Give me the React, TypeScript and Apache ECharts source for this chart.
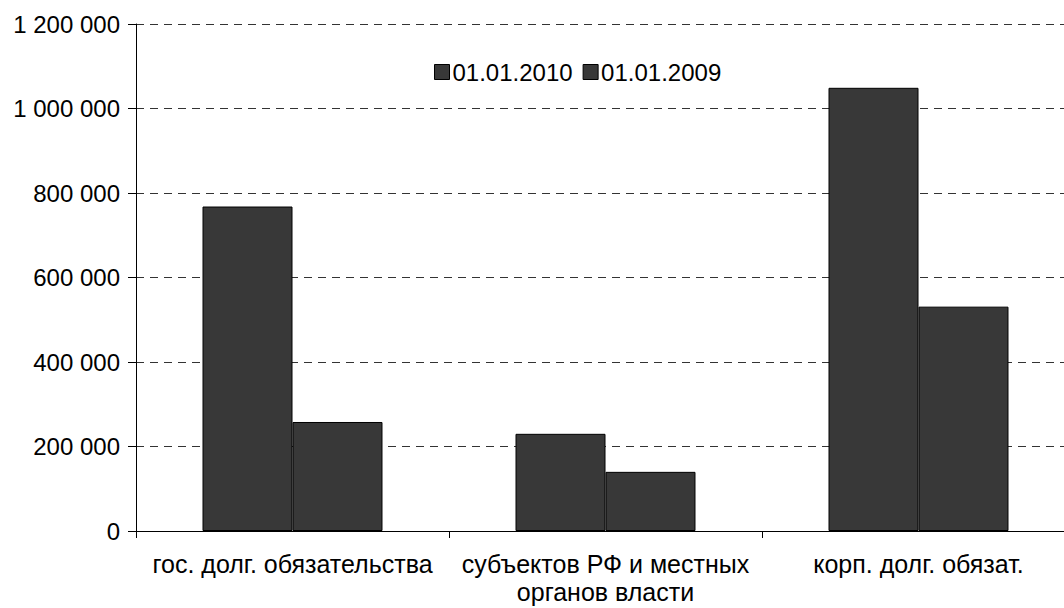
import React, { useEffect, useRef } from "react";
import * as echarts from "echarts";

const categories = [
  "гос. долг. обязательства",
  "субъектов РФ и местных\nорганов власти",
  "корп. долг. обязат.",
];
const seriesNames = ["01.01.2010", "01.01.2009"];
const values2010 = [768000, 230000, 1049000];
const values2009 = [258000, 140000, 531000];

const FONT = "'Liberation Sans', Arial, sans-serif";
const BAR = "#383838";

function fmt(v: number): string {
  return String(Math.round(v)).replace(/\B(?=(\d{3})+(?!\d))/g, " ");
}

export default function App() {
  const ref = useRef<HTMLDivElement>(null);
  useEffect(() => {
    if (!ref.current) return;
    const chart = echarts.init(ref.current, null, { renderer: "svg" });
    const mkSeries = (name: string, data: number[]) => ({
      name,
      type: "bar",
      data,
      barGap: "0%",
      barCategoryGap: "42.5%",
      itemStyle: { color: BAR, borderColor: "#000", borderWidth: 1 },
    });
    chart.setOption({
      animation: false,
      backgroundColor: "#fff",
      textStyle: { fontFamily: FONT },
      legend: {
        left: 434,
        top: 60,
        padding: 0,
        itemWidth: 15,
        itemHeight: 15,
        itemGap: 10,
        icon: "rect",
        data: seriesNames,
        textStyle: { fontFamily: FONT, fontSize: 24, color: "#000", padding: [0, 0, 0, -2] },
        itemStyle: { borderColor: "#000", borderWidth: 1 },
      },
      grid: { left: 136, top: 24, width: 939, height: 507, containLabel: false },
      xAxis: {
        type: "category",
        data: categories,
        boundaryGap: true,
        axisLine: { lineStyle: { color: "#000", width: 1 } },
        axisTick: { show: true, length: 7, lineStyle: { color: "#000" }, alignWithLabel: false },
        axisLabel: {
          interval: 0,
          fontFamily: FONT,
          fontSize: 25,
          color: "#000",
          margin: 19,
          lineHeight: 28,
        },
      },
      yAxis: {
        type: "value",
        min: 0,
        max: 1200000,
        interval: 200000,
        axisLine: { show: true, lineStyle: { color: "#000", width: 1 } },
        axisTick: { show: true, length: 8, lineStyle: { color: "#000" } },
        axisLabel: {
          fontFamily: FONT,
          fontSize: 24,
          color: "#000",
          margin: 16,
          formatter: (v: number) => fmt(v),
        },
        splitLine: {
          show: true,
          lineStyle: { color: "#333", type: [8, 6], width: 1 },
        },
      },
      series: [mkSeries(seriesNames[0], values2010), mkSeries(seriesNames[1], values2009)],
    });
    return () => chart.dispose();
  }, []);
  return (
    <div style={{ position: "fixed", left: 0, top: 0, width: 1064, height: 608, overflow: "hidden", background: "#fff" }}>
      <div ref={ref} style={{ width: 1090, height: 608 }} />
    </div>
  );
}
